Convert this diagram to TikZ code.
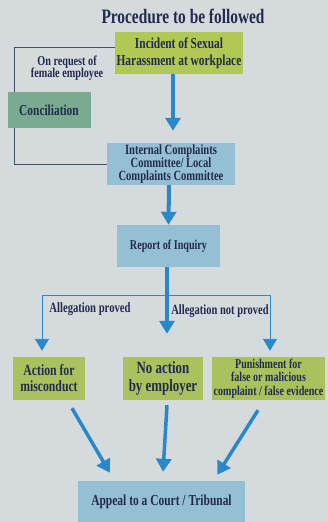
\documentclass[tikz,border=0pt]{standalone}
\usepackage{fontspec}
\setmainfont[FakeStretch=0.75]{Liberation Serif}
\usetikzlibrary{arrows.meta,positioning,calc}
\definecolor{board}{HTML}{D5DBDD}
\definecolor{ink}{HTML}{222B4F}
\definecolor{leaf}{HTML}{A9C25E}
\definecolor{moss}{HTML}{7AAA90}
\definecolor{sky}{HTML}{95BFD3}
\definecolor{flow}{HTML}{2A88C8}
\definecolor{wire}{HTML}{3E5062}

\begin{document}
\begin{tikzpicture}
[x=1pt,y=-1pt, font=\bfseries, text=ink,
panel/.style={inner sep=0pt, align=center, text=ink},
leafbox/.style={panel, fill=leaf},
skybox/.style={panel, fill=sky},
bigflow/.style={draw=flow, line width=4pt, -{Triangle[width=15pt,length=13pt]}},
thinflow/.style={draw=flow, line width=0.9pt, -{Triangle[width=14pt,length=12pt]}},
note/.style={text=ink, align=center, inner sep=0pt}]
\fill[board] (0,0) rectangle (328,522);
\useasboundingbox (0,0) rectangle (328,522);

\node (title) at (183,16) [note,font=\bfseries\fontsize{20.5}{22}\selectfont] {Procedure to be followed};
\node (incident) at (179,53) [leafbox,fill=leaf!90!yellow,minimum width=128pt,minimum height=42pt,font=\bfseries\fontsize{15.2}{17}\selectfont] {Incident of Sexual\\Harassment at workplace};
\node (icc) at (171,164) [skybox,minimum width=128pt,minimum height=42pt,font=\bfseries\fontsize{14.1}{13}\selectfont] {Internal Complaints\\Committee/ Local\\Complaints Committee};

% request path, behind the conciliation box
\coordinate (bend) at (14,164);
\draw[wire,line width=0.8pt] ([yshift=6pt]incident.west) -| (bend) -- (icc.west);
\node (request) at (67,68) [note,font=\bfseries\fontsize{13.6}{12.5}\selectfont] {On request of\\female employee};
\node (conc) at (49,110) [panel,fill=moss,minimum width=83pt,minimum height=36pt,font=\bfseries\fontsize{15.2}{17}\selectfont] {Conciliation};

\node (report) at (168.5,246) [skybox,minimum width=103pt,minimum height=42pt,font=\bfseries\fontsize{13.5}{15}\selectfont] {Report of Inquiry};

\node (act) at (49,378.5) [leafbox,minimum width=72pt,minimum height=43pt,font=\bfseries\fontsize{15.6}{16}\selectfont] {Action for\\misconduct};
\node (noact) at (163,378.5) [leafbox,minimum width=80pt,minimum height=43pt,font=\bfseries\fontsize{17.2}{18}\selectfont] {No action\\by employer};
\node (pun) at (268.5,378.5) [leafbox,minimum width=113pt,minimum height=43pt,font=\bfseries\fontsize{13.4}{13.5}\selectfont] {Punishment for\\false or malicious\\complaint / false evidence};

\node (appeal) at (161.5,501.5) [skybox,minimum width=167pt,minimum height=41pt,font=\bfseries\fontsize{15.3}{17}\selectfont] {Appeal to a Court / Tribunal};

\node (proved) at (90,309) [note,font=\bfseries\fontsize{14.2}{15}\selectfont] {Allegation proved};
\node (notproved) at (220,311) [note,font=\bfseries\fontsize{14}{15}\selectfont] {Allegation not proved};

\draw[bigflow,shorten >=12pt] ([xshift=-6pt]incident.south) -- ([xshift=-6pt]incident.south |- icc.north);
\draw[bigflow] ([xshift=-2pt]icc.south) -- (report.north);
\draw[bigflow,line width=3.5pt,shorten >=23pt] ([xshift=-1.5pt]report.south) -- ([xshift=-1.5pt]report.south |- noact.north);

\coordinate (split) at ($(report.south)+(0,28)$);
\draw[thinflow,shorten >=6pt] (split) -| ([xshift=-7pt]act.north);
\draw[thinflow,shorten >=6pt] (split) -| ([xshift=1.5pt]pun.north);

\draw[bigflow,line width=3.5pt] ([shift={(23pt,-8pt)}]act.south) -- ([shift={(32pt,8pt)}]appeal.north west);
\draw[bigflow,line width=3.5pt] ([shift={(4pt,-5pt)}]noact.south) -- ([shift={(1.5pt,9pt)}]appeal.north);
\draw[bigflow,line width=3.5pt] ([shift={(-10.5pt,-10pt)}]pun.south) -- ([shift={(-28pt,6pt)}]appeal.north east);
\end{tikzpicture}
\end{document}
